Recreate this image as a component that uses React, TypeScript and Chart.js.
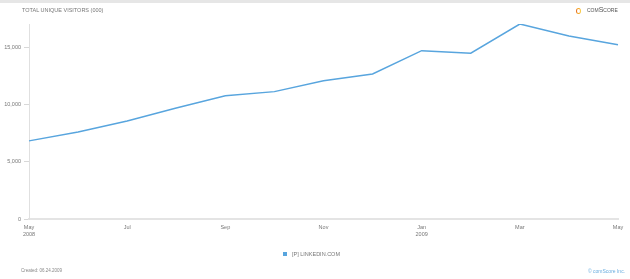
import React, { useEffect, useRef } from "react";
import { Chart, registerables } from "chart.js";

Chart.register(...registerables);

const months = ["May", "Jun", "Jul", "Aug", "Sep", "Oct", "Nov", "Dec", "Jan", "Feb", "Mar", "Apr", "May"];
const years = ["2008", "", "", "", "", "", "", "", "2009", "", "", "", ""];
const visitors = [6850, 7630, 8600, 9740, 10810, 11170, 12130, 12720, 14760, 14540, 17100, 16050, 15290];
const yTicks = [0, 5000, 10000, 15000];
const seriesName = "[P] LINKEDIN.COM";
const chartTitle = "TOTAL UNIQUE VISITORS (000)";

const FONT = "'Liberation Sans', Arial, sans-serif";
const LINE = "#58a5de";

export default function App() {
  const ref = useRef<HTMLCanvasElement | null>(null);
  useEffect(() => {
    document.body.style.margin = "0";
    const ctx = ref.current!;
    const chart = new Chart(ctx, {
      type: "line",
      data: {
        labels: months.map((m, i) => (years[i] ? [m, years[i]] : m)),
        datasets: [
          {
            label: seriesName,
            data: visitors,
            borderColor: LINE,
            backgroundColor: LINE,
            borderWidth: 1.5,
            pointRadius: 0,
            tension: 0,
          },
        ],
      },
      options: {
        animation: false,
        responsive: false,
        maintainAspectRatio: false,
        layout: { padding: { top: 24, right: 12, left: 0, bottom: 0 } },
        plugins: { legend: { display: false }, tooltip: { enabled: false } },
        scales: {
          x: {
            type: "category",
            offset: false,
            grid: { display: false, drawTicks: false },
            border: { display: true, color: "#e4e4e4", width: 2 },
            ticks: {
              autoSkip: false,
              maxRotation: 0,
              padding: 5,
              color: "#777",
              font: { family: FONT, size: 5.5, lineHeight: 1.25 },
              callback: function (this: any, _v: any, i: number) {
                return i % 2 === 0 ? (this as any).getLabelForValue(i) : "";
              },
            },
            afterFit: (s: any) => {
              s.height = 60;
            },
          },
          y: {
            type: "linear",
            min: 0,
            max: 17100,
            afterBuildTicks: (s: any) => {
              s.ticks = yTicks.map((v) => ({ value: v }));
            },
            grid: { drawOnChartArea: false, drawTicks: true, tickLength: 5, color: "#d8d8d8" },
            border: { display: true, color: "#e0e0e0", width: 1 },
            ticks: {
              padding: 3,
              color: "#777",
              font: { family: FONT, size: 5.5 },
              callback: (v: any) => Number(v).toLocaleString("en-US"),
            },
            afterFit: (s: any) => {
              s.width = 29;
            },
          },
        },
      },
    });
    return () => chart.destroy();
  }, []);

  const small: React.CSSProperties = { position: "absolute", fontFamily: FONT, color: "#777", whiteSpace: "nowrap" };

  return (
    <div style={{ position: "fixed", left: 0, top: 0, width: 630, height: 279, background: "#fff", overflow: "hidden" }}>
      <div style={{ position: "absolute", left: 0, top: 0, width: 630, height: 3, background: "#e6e6e6" }} />
      <canvas ref={ref} width={630} height={279} style={{ position: "absolute", left: 0, top: 0, width: 630, height: 279 }} />
      <div style={{ ...small, left: 22, top: 7, fontSize: 5.5 }}>{chartTitle}</div>
      <div style={{ position: "absolute", left: 576, top: 8, width: 3, height: 4, borderRadius: "50%", border: "1.8px solid #f5a623", borderRightColor: "#f7c948", borderLeftColor: "#e8731c" }} />
      <div style={{ ...small, left: 587, top: 6, fontSize: 7, fontVariant: "small-caps", color: "#555" }}>comScore</div>
      <div style={{ position: "absolute", left: 283, top: 252, width: 4, height: 4, background: LINE }} />
      <div style={{ ...small, left: 292, top: 251, fontSize: 5.5 }}>{seriesName}</div>
      <div style={{ ...small, left: 21, top: 268, fontSize: 4.5, color: "#888" }}>Created: 06.24.2009</div>
      <div style={{ ...small, left: 588, top: 267.5, fontSize: 5, color: "#6aaee0" }}>© comScore Inc.</div>
    </div>
  );
}
